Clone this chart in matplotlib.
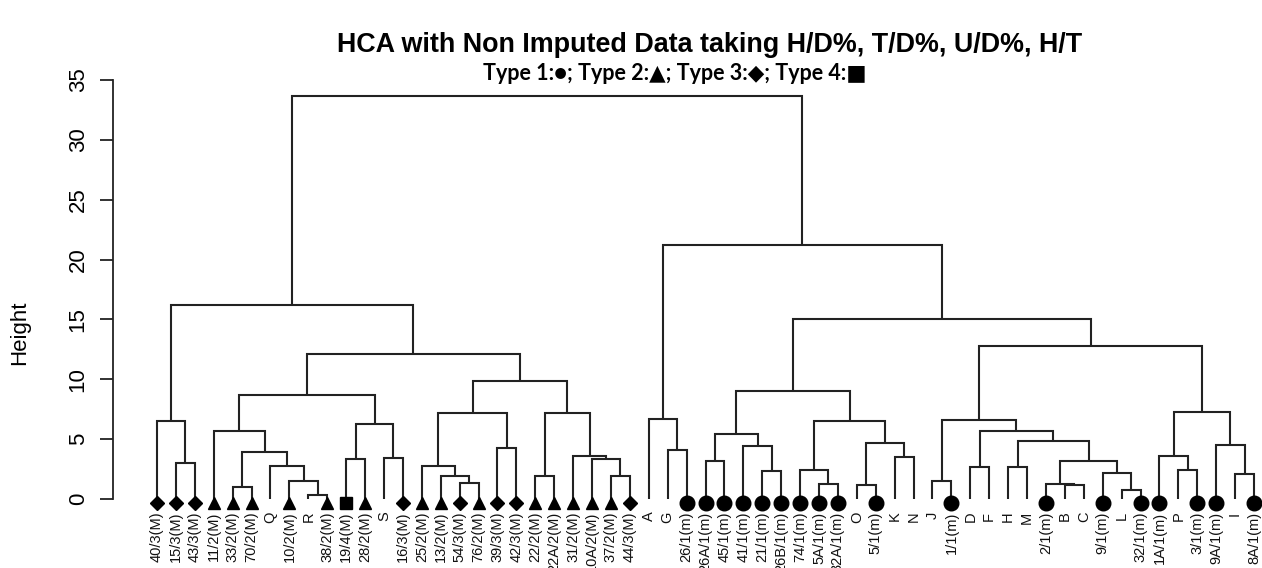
"""
Dendrogram of the HCA run on non imputed data (H/D%, T/D%, U/D%, H/T).
Tree topology and merge heights read off the published figure.
"""
import matplotlib
matplotlib.use("Agg")
import matplotlib.pyplot as plt

LEAF_LABELS = [
    "40/3(M)", "15/3(M)", "43/3(M)", "11/2(M)", "33/2(M)", "70/2(M)", "Q",
    "10/2(M)", "R", "38/2(M)", "19/4(M)", "28/2(M)", "S", "16/3(M)",
    "25/2(M)", "13/2(M)", "54/3(M)", "76/2(M)", "39/3(M)", "42/3(M)",
    "22/2(M)", "22A/2(M)", "31/2(M)", "10A/2(M)", "37/2(M)", "44/3(M)",
    "A", "G", "26/1(m)", "26A/1(m)", "45/1(m)", "41/1(m)", "21/1(m)",
    "26B/1(m)", "74/1(m)", "5A/1(m)", "32A/1(m)", "O", "5/1(m)", "K", "N",
    "J", "1/1(m)", "D", "F", "H", "M", "2/1(m)", "B", "C", "9/1(m)", "L",
    "32/1(m)", "1A/1(m)", "P", "3/1(m)", "9A/1(m)", "I", "8A/1(m)",
]
# 0 = no marker, 1..4 = Type 1..4
LEAF_TYPES = [
    3, 3, 3, 2, 2, 2, 0, 2, 0, 2, 4, 2, 0, 3, 2, 2, 3, 2, 3, 3, 2, 2, 2, 2,
    2, 3, 0, 0, 1, 1, 1, 1, 1, 1, 1, 1, 1, 0, 1, 0, 0, 0, 1, 0, 0, 0, 0, 1,
    0, 0, 1, 0, 1, 1, 0, 1, 1, 0, 1,
]

# merge steps: a string is a leaf, an int is an earlier merge step
MERGE_LEFT = [
    "15/3(M)", "40/3(M)", "33/2(M)", "R", "10/2(M)", "Q", 2, "11/2(M)",
    "19/4(M)", "S", 8, 7, "54/3(M)", "13/2(M)", "25/2(M)", "39/3(M)", 14,
    "22/2(M)", "37/2(M)", "10A/2(M)", "31/2(M)", 17, 16, 11, 1,
    "G", "A", "26A/1(m)", "21/1(m)", "41/1(m)", 27, "5A/1(m)", "74/1(m)",
    "O", "K", 33, 32, 30, "J", "D", "H", "B", "2/1(m)", "L", "9/1(m)", 42,
    40, 39, 38, "P", "1A/1(m)", "I", "9A/1(m)", 50, 48, 37, 26, 24,
]
MERGE_RIGHT = [
    "43/3(M)", 0, "70/2(M)", "38/2(M)", 3, 4, 5, 6,
    "28/2(M)", "16/3(M)", 9, 10, "76/2(M)", 12, 13, "42/3(M)", 15,
    "22A/2(M)", "44/3(M)", 18, 19, 20, 21, 22, 23,
    "26/1(m)", 25, "45/1(m)", "26B/1(m)", 28, 29, "32A/1(m)", 31,
    "5/1(m)", "N", 34, 35, 36, "1/1(m)", "F", "M", "C", 41, "32/1(m)", 43, 44,
    45, 46, 47, "3/1(m)", 49, "8A/1(m)", 51, 52, 53, 54, 55, 56,
]
MERGE_HEIGHTS = [
    3.0, 6.55, 1.0, 0.35, 1.5, 2.75, 3.9, 5.7,
    3.35, 3.45, 6.25, 8.7, 1.35, 1.9, 2.75, 4.3, 7.15,
    1.95, 1.95, 3.35, 3.6, 7.15, 9.85, 12.1, 16.2,
    4.1, 6.65, 3.2, 2.35, 4.45, 5.4, 1.25, 2.45,
    1.2, 3.5, 4.7, 6.55, 9.0, 1.5, 2.7, 2.7, 1.15, 1.25, 0.75, 2.15, 3.15,
    4.85, 5.7, 6.6, 2.4, 3.6, 2.1, 4.5, 7.25, 12.8, 15.0, 21.25, 33.7,
]

MARKERS = {1: ("o", 10.5), 2: ("^", 9), 3: ("D", 6.8), 4: ("s", 8.5)}
LINE_COLOR = "#222222"


def main():
    W, H = 1262, 568
    fig = plt.figure(figsize=(W / 100, H / 100), dpi=100)
    fig.patch.set_facecolor("white")

    left_px, right_px = 113, 1262
    bottom_px, top_px = 499, 80
    first_leaf_px, last_leaf_px = 157, 1254
    ax = fig.add_axes([left_px / W, (H - bottom_px) / H,
                       (right_px - left_px) / W, (bottom_px - top_px) / H])
    step = (last_leaf_px - first_leaf_px) / (len(LEAF_LABELS) - 1)
    ax.set_xlim(1 - (first_leaf_px - left_px) / step,
                len(LEAF_LABELS) + (right_px - last_leaf_px) / step)
    ax.set_ylim(0, 35)

    merge_pos = []

    def pos(ref):
        if isinstance(ref, str):
            return LEAF_LABELS.index(ref) + 1, 0.0
        return merge_pos[ref]

    for a, b, h in zip(MERGE_LEFT, MERGE_RIGHT, MERGE_HEIGHTS):
        xa, ha = pos(a)
        xb, hb = pos(b)
        ax.plot([xa, xa, xb, xb], [ha, h, h, hb], color=LINE_COLOR,
                lw=1.5, solid_joinstyle="miter", solid_capstyle="butt")
        merge_pos.append(((xa + xb) / 2, h))

    for i, (lab, t) in enumerate(zip(LEAF_LABELS, LEAF_TYPES)):
        x = i + 1
        if t:
            m, ms = MARKERS[t]
            ax.plot(x, -0.35, marker=m, ms=ms, color="black", clip_on=False,
                    zorder=5)
        ax.text(x, -1.05, lab, rotation=90, ha="center", va="top",
                fontsize=10.5, family="Liberation Sans", color="#111111")

    for side in ("top", "right", "bottom"):
        ax.spines[side].set_visible(False)
    ax.spines["left"].set_bounds(0, 35)
    ax.spines["left"].set_linewidth(1.3)
    ax.spines["left"].set_color(LINE_COLOR)
    ax.set_xticks([])
    ax.set_yticks(range(0, 36, 5))
    ax.tick_params(axis="y", length=9.5, width=1.3, pad=8, labelsize=16,
                   labelrotation=90, color=LINE_COLOR)
    for lbl in ax.get_yticklabels():
        lbl.set_family("Liberation Sans")
        lbl.set_va("center")

    fig.text(20 / W, 1 - 333 / H, "Height", rotation=90, ha="center",
             va="center", fontsize=16, family="Liberation Sans")
    fig.text(710 / W, 1 - 45 / H,
             "HCA with Non Imputed Data taking H/D%, T/D%, U/D%, H/T",
             ha="center", va="center", fontsize=19.4, fontweight="bold",
             family="Liberation Sans")
    fig.text(675 / W, 1 - 74 / H,
             "Type 1:\u25cf; Type 2:\u25b2; Type 3:\u25c6; Type 4:\u25a0",
             ha="center", va="center", fontsize=15.5, fontweight="bold",
             family=["Lato", "DejaVu Sans"])

    fig.savefig("out.png", dpi=100)


if __name__ == "__main__":
    main()
